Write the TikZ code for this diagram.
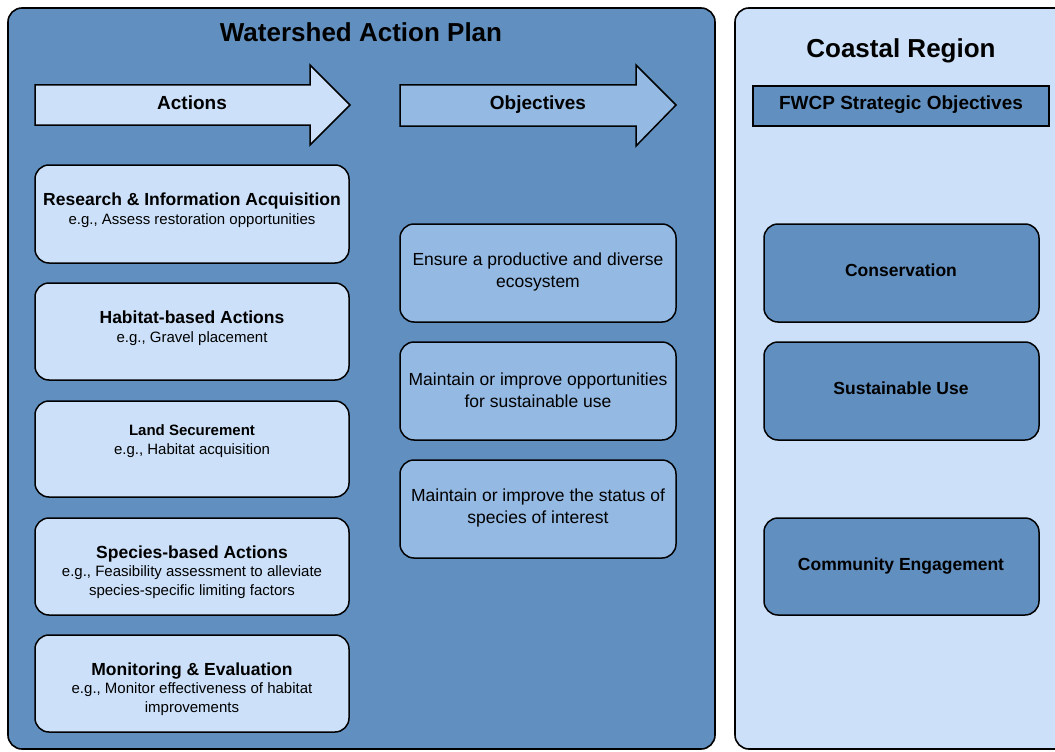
\documentclass[tikz,border=0pt]{standalone}
\usepackage{fontspec}
\setmainfont{Liberation Sans}
\definecolor{panelblue}{HTML}{6190C0}
\definecolor{lightblue}{HTML}{CCE1F9}
\definecolor{midblue}{HTML}{94B9E2}
\begin{document}
\begin{tikzpicture}[x=1pt,y=-1pt,
  panel/.style={draw=black,line width=1.6pt,rounded corners=14pt},
  box/.style={draw=black,line width=1.5pt,rounded corners=14pt},
  arrowshape/.style={draw=black,line width=1.5pt,line join=miter},
  bigtitle/.style={font=\fontsize{26}{30}\selectfont\bfseries,anchor=base,inner sep=0pt},
  arrowlabel/.style={font=\fontsize{19}{22}\selectfont\bfseries,anchor=base,inner sep=0pt},
  boxtext/.style={align=center,font=\fontsize{15}{18.5}\selectfont,inner sep=0pt},
  midtext/.style={align=center,font=\fontsize{17.5}{21.5}\selectfont,inner sep=0pt},
  righttext/.style={font=\fontsize{17.5}{21}\selectfont\bfseries,anchor=base,inner sep=0pt}
]
\newcommand{\ttl}[1]{{\fontsize{17.5}{20}\selectfont\bfseries #1}}
\useasboundingbox (0,0) rectangle (1055,752);
\clip (0,0) rectangle (1055,752);
\fill[white] (0,0) rectangle (1055,752);

% panels
\draw[panel,fill=panelblue] (8,8) rectangle (715,749);
\draw[panel,fill=lightblue] (735,8) rectangle (1080,749);

\node[bigtitle] (wtitle) at (361,42) {Watershed Action Plan};
\node[bigtitle] (ctitle) at (901,58) {Coastal Region};

% header arrows
\draw[arrowshape,fill=lightblue] (35,85) -- (310,85) -- (310,65) -- (350,105) -- (310,145) -- (310,125) -- (35,125) -- cycle;
\node[arrowlabel] (actions) at (192,110) {Actions};
\draw[arrowshape,fill=midblue] (400,85) -- (636,85) -- (636,65) -- (676,105) -- (636,146) -- (636,126) -- (400,126) -- cycle;
\node[arrowlabel] (objectives) at (538,110) {Objectives};

% FWCP header
\draw[draw=black,line width=1.5pt,fill=panelblue] (753,86) rectangle (1049,126);
\node[arrowlabel] (fwcplabel) at (901,110) {FWCP Strategic Objectives};

% left action boxes
\draw[box,fill=lightblue] (35,165) rectangle (349,263);
\node[boxtext] (a1) at (192,210) {\ttl{Research \& Information Acquisition}\\e.g., Assess restoration opportunities};
\draw[box,fill=lightblue] (35,283) rectangle (349,380);
\node[boxtext] (a2) at (192,328) {\ttl{Habitat-based Actions}\\e.g., Gravel placement};
\draw[box,fill=lightblue] (35,401) rectangle (349,497);
\node[boxtext] (a3) at (192,441) {{\bfseries Land Securement}\\e.g., Habitat acquisition};
\draw[box,fill=lightblue] (35,518) rectangle (349,615);
\node[boxtext] (a4) at (192,572) {\ttl{Species-based Actions}\\e.g., Feasibility assessment to alleviate\\species-specific limiting factors};
\draw[box,fill=lightblue] (35,635) rectangle (349,732);
\node[boxtext] (a5) at (192,689) {\ttl{Monitoring \& Evaluation}\\e.g., Monitor effectiveness of habitat\\improvements};

% objective boxes
\draw[box,fill=midblue] (400,224) rectangle (676,322);
\node[midtext] (o1) at (538,272) {Ensure a productive and diverse\\ecosystem};
\draw[box,fill=midblue] (400,342) rectangle (676,440);
\node[midtext] (o2) at (538,390) {Maintain or improve opportunities\\for sustainable use};
\draw[box,fill=midblue] (400,460) rectangle (676,558);
\node[midtext] (o3) at (538,508) {Maintain or improve the status of\\species of interest};

% strategic objective boxes
\draw[box,fill=panelblue] (764,224) rectangle (1039,322);
\node[righttext] (s1) at (901,276) {Conservation};
\draw[box,fill=panelblue] (764,342) rectangle (1039,440);
\node[righttext] (s2) at (901,394) {Sustainable Use};
\draw[box,fill=panelblue] (764,518) rectangle (1039,615);
\node[righttext] (s3) at (901,570) {Community Engagement};
\end{tikzpicture}
\end{document}
